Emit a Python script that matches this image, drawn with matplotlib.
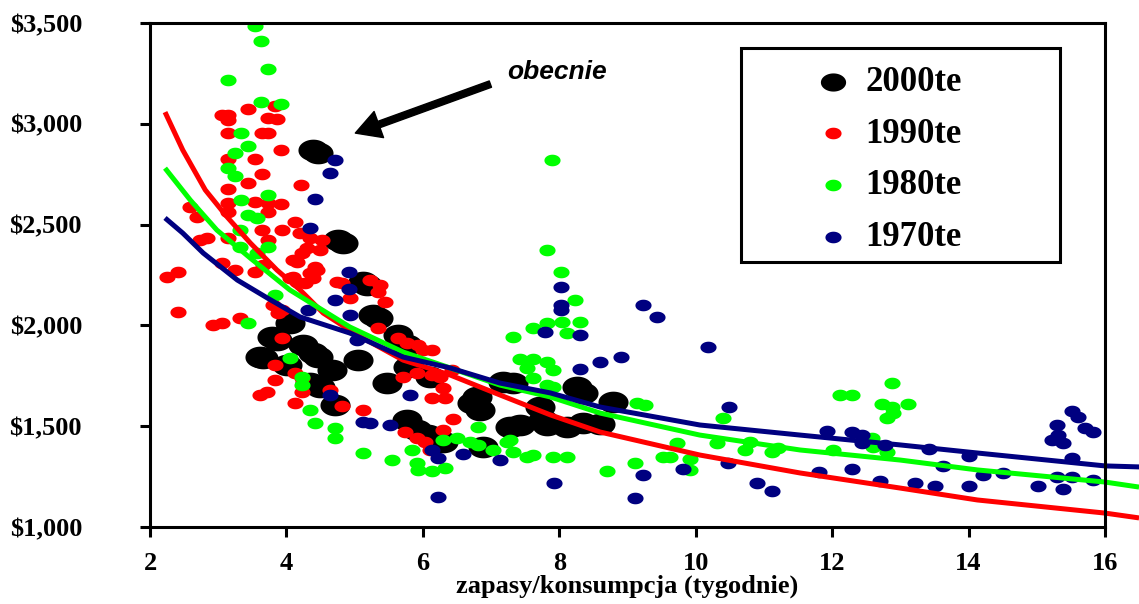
import numpy as np
import matplotlib
matplotlib.use("Agg")
import matplotlib.pyplot as plt
from matplotlib.path import Path
from matplotlib.patches import Rectangle
from matplotlib.ticker import FuncFormatter

# punkty - dekada 2000te
x_2000 = [4.39, 4.46, 4.76, 4.83, 5.18, 5.12, 5.27, 5.34, 4.05, 3.86, 3.79, 4.24, 4.39, 3.66, 3.61,
          4.46, 4.67, 4.01, 5.05, 4.35, 4.49, 4.71, 5.64, 5.77, 5.47, 5.78, 6.10, 5.77, 5.91, 6.08,
          6.30, 6.72, 6.79, 6.84, 7.18, 7.32, 7.43, 7.82, 7.76, 6.88, 7.72, 8.26, 8.35, 7.28, 8.11,
          8.35, 8.79, 8.60]
y_2000 = [2870, 2855, 2424, 2409, 2200, 2215, 2052, 2037, 2012, 1928, 1943, 1903, 1863, 1838, 1843,
          1843, 1779, 1804, 1828, 1714, 1695, 1605, 1952, 1903, 1714, 1794, 1744, 1531, 1481, 1456,
          1421, 1615, 1645, 1580, 1719, 1714, 1506, 1506, 1531, 1397, 1595, 1695, 1665, 1496, 1496,
          1516, 1620, 1510]

# 1990te
x_1990 = [3.06, 3.14, 3.14, 3.44, 3.73, 3.86, 3.83, 3.14, 3.64, 3.73, 3.92, 3.54, 3.14, 3.64, 3.44,
          4.21, 3.14, 3.14, 3.54, 3.73, 3.92, 2.59, 2.69, 3.73, 3.14, 4.12, 3.93, 3.64, 2.73, 2.84,
          3.14, 3.73, 4.20, 4.35, 4.52, 4.30, 4.49, 3.06, 3.25, 3.54, 4.10, 4.23, 4.42, 4.35, 4.10,
          2.25, 2.41, 4.74, 5.23, 5.37, 5.34, 2.41, 2.92, 3.06, 3.32, 3.66, 4.15, 4.45, 4.39, 4.05,
          4.15, 4.27, 3.88, 3.94, 3.80, 4.81, 4.93, 5.45, 5.34, 3.94, 3.83, 4.13, 4.23, 3.83, 3.61,
          3.72, 4.23, 4.13, 4.64, 4.81, 5.12, 5.64, 5.77, 5.93, 6.00, 6.13, 5.71, 5.91, 6.13, 6.25,
          6.30, 6.33, 6.13, 6.43, 6.44, 5.74, 5.91, 6.03, 6.30, 6.10]
y_1990 = [3044, 3044, 3019, 3073, 3029, 3024, 3088, 2954, 2954, 2954, 2870, 2825, 2825, 2751, 2706,
          2696, 2677, 2607, 2612, 2607, 2602, 2587, 2538, 2562, 2562, 2513, 2473, 2473, 2424, 2434,
          2434, 2424, 2458, 2434, 2424, 2384, 2374, 2309, 2275, 2265, 2324, 2359, 2290, 2260, 2240,
          2240, 2265, 2215, 2225, 2200, 2166, 2066, 2002, 2012, 2037, 2300, 2314, 2275, 2235, 2235,
          2215, 2210, 2061, 2076, 2101, 2210, 2136, 2116, 1987, 1937, 1804, 1764, 1739, 1729, 1655,
          1670, 1670, 1615, 1680, 1600, 1580, 1937, 1913, 1903, 1878, 1878, 1744, 1764, 1754, 1744,
          1690, 1640, 1640, 1779, 1536, 1471, 1441, 1421, 1481, 1382]

# 1980te
x_1980 = [3.54, 3.63, 3.73, 3.14, 3.63, 3.92, 3.33, 3.44, 3.25, 3.14, 3.25, 3.73, 3.33, 3.44, 3.57,
          3.32, 3.32, 3.57, 3.73, 3.83, 7.90, 7.82, 8.03, 8.23, 7.62, 7.82, 8.04, 8.11, 8.30, 7.32,
          7.43, 7.62, 7.82, 7.53, 7.91, 7.62, 7.82, 7.91, 3.44, 4.05, 4.23, 4.23, 4.35, 4.42, 4.71,
          4.71, 5.12, 5.55, 5.84, 5.91, 5.93, 6.13, 6.33, 6.30, 6.50, 6.69, 6.81, 6.81, 7.03, 7.23,
          7.32, 7.53, 7.62, 7.28, 7.91, 8.11, 8.70, 9.11, 9.14, 9.26, 10.40, 9.52, 9.62, 9.73, 9.92,
          9.92, 10.31, 10.72, 10.80, 11.12, 11.21, 12.01, 12.12, 12.29, 12.88, 12.73, 12.88, 13.11,
          12.80, 12.90, 12.60, 12.59, 12.80]
y_1980 = [3485, 3410, 3272, 3217, 3108, 3098, 2954, 2890, 2855, 2780, 2741, 2647, 2622, 2548, 2533,
          2473, 2389, 2359, 2389, 2151, 2820, 2374, 2265, 2126, 1987, 2012, 2017, 1962, 2017, 1942,
          1833, 1833, 1818, 1789, 1779, 1739, 1704, 1695, 2012, 1838, 1744, 1704, 1580, 1516, 1491,
          1441, 1367, 1332, 1382, 1317, 1283, 1278, 1293, 1431, 1441, 1421, 1496, 1407, 1382, 1421,
          1372, 1347, 1357, 1431, 1347, 1347, 1278, 1317, 1615, 1605, 1541, 1347, 1347, 1417, 1337,
          1283, 1417, 1382, 1421, 1372, 1392, 1382, 1655, 1655, 1714, 1610, 1595, 1610,
          1541, 1565, 1397, 1441, 1372]

# 1970te
x_1970 = [4.71, 4.64, 4.42, 4.35, 4.92, 4.92, 4.71, 4.93, 4.32, 5.04, 4.64, 5.12, 5.23, 5.52, 5.81,
          6.13, 6.22, 6.59, 7.13, 6.22, 7.79, 8.03, 8.03, 8.03, 8.30, 9.23, 9.43, 10.18, 8.91, 8.60,
          8.30, 10.49, 7.92, 9.11, 9.23, 9.82, 10.48, 10.90, 11.12, 11.81, 11.93, 12.29, 12.44, 12.44,
          12.78, 12.29, 12.70, 13.22, 13.51, 13.42, 13.63, 14.01, 14.01, 14.21, 14.51, 15.02, 15.39,
          15.30, 15.52, 15.83, 15.52, 15.30, 15.23, 15.39, 15.31, 15.52, 15.60, 15.71, 15.83]
y_1970 = [2820, 2756, 2627, 2483, 2265, 2180, 2126, 2052, 2076, 1928, 1655, 1521, 1516, 1506, 1655,
          1382, 1342, 1362, 1332, 1149, 1967, 2190, 2101, 2076, 1952, 2101, 2042, 1893, 1843, 1818,
          1784, 1595, 1218, 1144, 1258, 1288, 1317, 1218, 1179, 1273, 1476, 1471, 1456, 1417,
          1407, 1288, 1228, 1218, 1203, 1387, 1303, 1352, 1203, 1258, 1268, 1203, 1189,
          1248, 1248, 1233, 1342, 1506, 1431, 1417, 1456, 1575, 1546, 1491, 1471]

# linie trendu
tx_1990 = [2.22, 2.48, 2.81, 3.13, 3.47, 3.86, 4.20, 4.54, 5.04, 5.71, 6.40, 7.13, 7.87, 8.60,
           10.06, 11.53, 13.00, 14.13, 16.00, 16.50]
ty_1990 = [3058, 2870, 2672, 2538, 2409, 2275, 2176, 2061, 1952, 1828, 1754, 1655, 1556, 1471,
           1357, 1268, 1193, 1134, 1069, 1045]
tx_1980 = [2.22, 2.59, 2.98, 3.47, 4.05, 4.93, 5.71, 6.40, 7.13, 7.87, 8.60, 10.06, 11.53, 13.00,
           14.13, 16.00, 16.50]
ty_1980 = [2780, 2622, 2473, 2334, 2176, 1992, 1868, 1789, 1704, 1645, 1565, 1456, 1382, 1332,
           1283, 1223, 1198]
tx_1970 = [2.22, 2.48, 2.78, 3.28, 3.72, 4.20, 4.93, 5.71, 6.40, 7.13, 7.87, 8.60, 10.06, 11.53,
           13.00, 14.13, 16.00, 16.50]
ty_1970 = [2533, 2458, 2359, 2225, 2136, 2042, 1962, 1843, 1789, 1714, 1665, 1595, 1506, 1456,
           1407, 1367, 1303, 1298]

# elipsa jako znacznik
t = np.linspace(0, 2 * np.pi, 60)
elipsa = Path(np.column_stack([np.cos(t), 0.72 * np.sin(t)]), closed=True)

serif = "Liberation Serif"

fig = plt.figure(figsize=(11.39, 6.04), dpi=100)
ax = fig.add_axes([0.1317, 0.1275, 0.9701 - 0.1317, 0.9619 - 0.1275])

ax.scatter(x_2000, y_2000, s=470, marker=elipsa, color="black", linewidths=0, label="2000te")
ax.scatter(x_1990, y_1990, s=135, marker=elipsa, color="#ff0000", linewidths=0, label="1990te")
ax.scatter(x_1980, y_1980, s=135, marker=elipsa, color="#00ff00", linewidths=0, label="1980te")
ax.scatter(x_1970, y_1970, s=135, marker=elipsa, color="#000080", linewidths=0, label="1970te")

ax.plot(tx_1990, ty_1990, color="#ff0000", lw=3.6, clip_on=False, solid_capstyle="butt")
ax.plot(tx_1980, ty_1980, color="#00ff00", lw=3.6, clip_on=False, solid_capstyle="butt")
ax.plot(tx_1970, ty_1970, color="#000080", lw=3.6, clip_on=False, solid_capstyle="butt")

ax.set_xlim(2, 16)
ax.set_ylim(1000, 3500)
ax.set_xticks(range(2, 17, 2))
ax.set_yticks(range(1000, 3501, 500))
ax.yaxis.set_major_formatter(FuncFormatter(lambda v, p: "${:,.0f}".format(v)))

for s in ax.spines.values():
    s.set_linewidth(2.2)
ax.tick_params(direction="out", length=7, width=2.2)
ax.tick_params(axis="x", pad=11)
ax.tick_params(axis="y", pad=42)
for lab in ax.get_xticklabels() + ax.get_yticklabels():
    lab.set_fontfamily(serif)
    lab.set_fontweight("bold")
    lab.set_fontsize(19)

ax.set_xlabel("zapasy/konsumpcja (tygodnie)", fontfamily=serif, fontweight="bold",
              fontsize=19, labelpad=0)

# adnotacja
ax.annotate("", xy=(5.01, 2954), xytext=(6.99, 3197),
            arrowprops=dict(arrowstyle="simple,head_length=0.9,head_width=1.0,tail_width=0.24",
                            mutation_scale=20, color="black", shrinkA=0, shrinkB=0))
ax.text(7.97, 3257, "obecnie", fontfamily="Liberation Sans", fontweight="bold",
        fontstyle="italic", fontsize=19, ha="center", va="center")

# legenda
ax.add_patch(Rectangle((0.619, 0.526), 0.334, 0.424, transform=ax.transAxes, fill=False,
                       lw=2.2, edgecolor="black", zorder=5))
leg = ax.legend(loc="upper left", bbox_to_anchor=(0.697, 0.915), frameon=False,
                prop={"family": serif, "weight": "bold", "size": 25},
                borderpad=0, handlelength=1.0, handletextpad=0.44, labelspacing=0.54,
                borderaxespad=0)
leg.legend_handles[0].set_sizes([330])
for h in leg.legend_handles[1:]:
    h.set_sizes([135])

fig.savefig("out.png", dpi=100)
